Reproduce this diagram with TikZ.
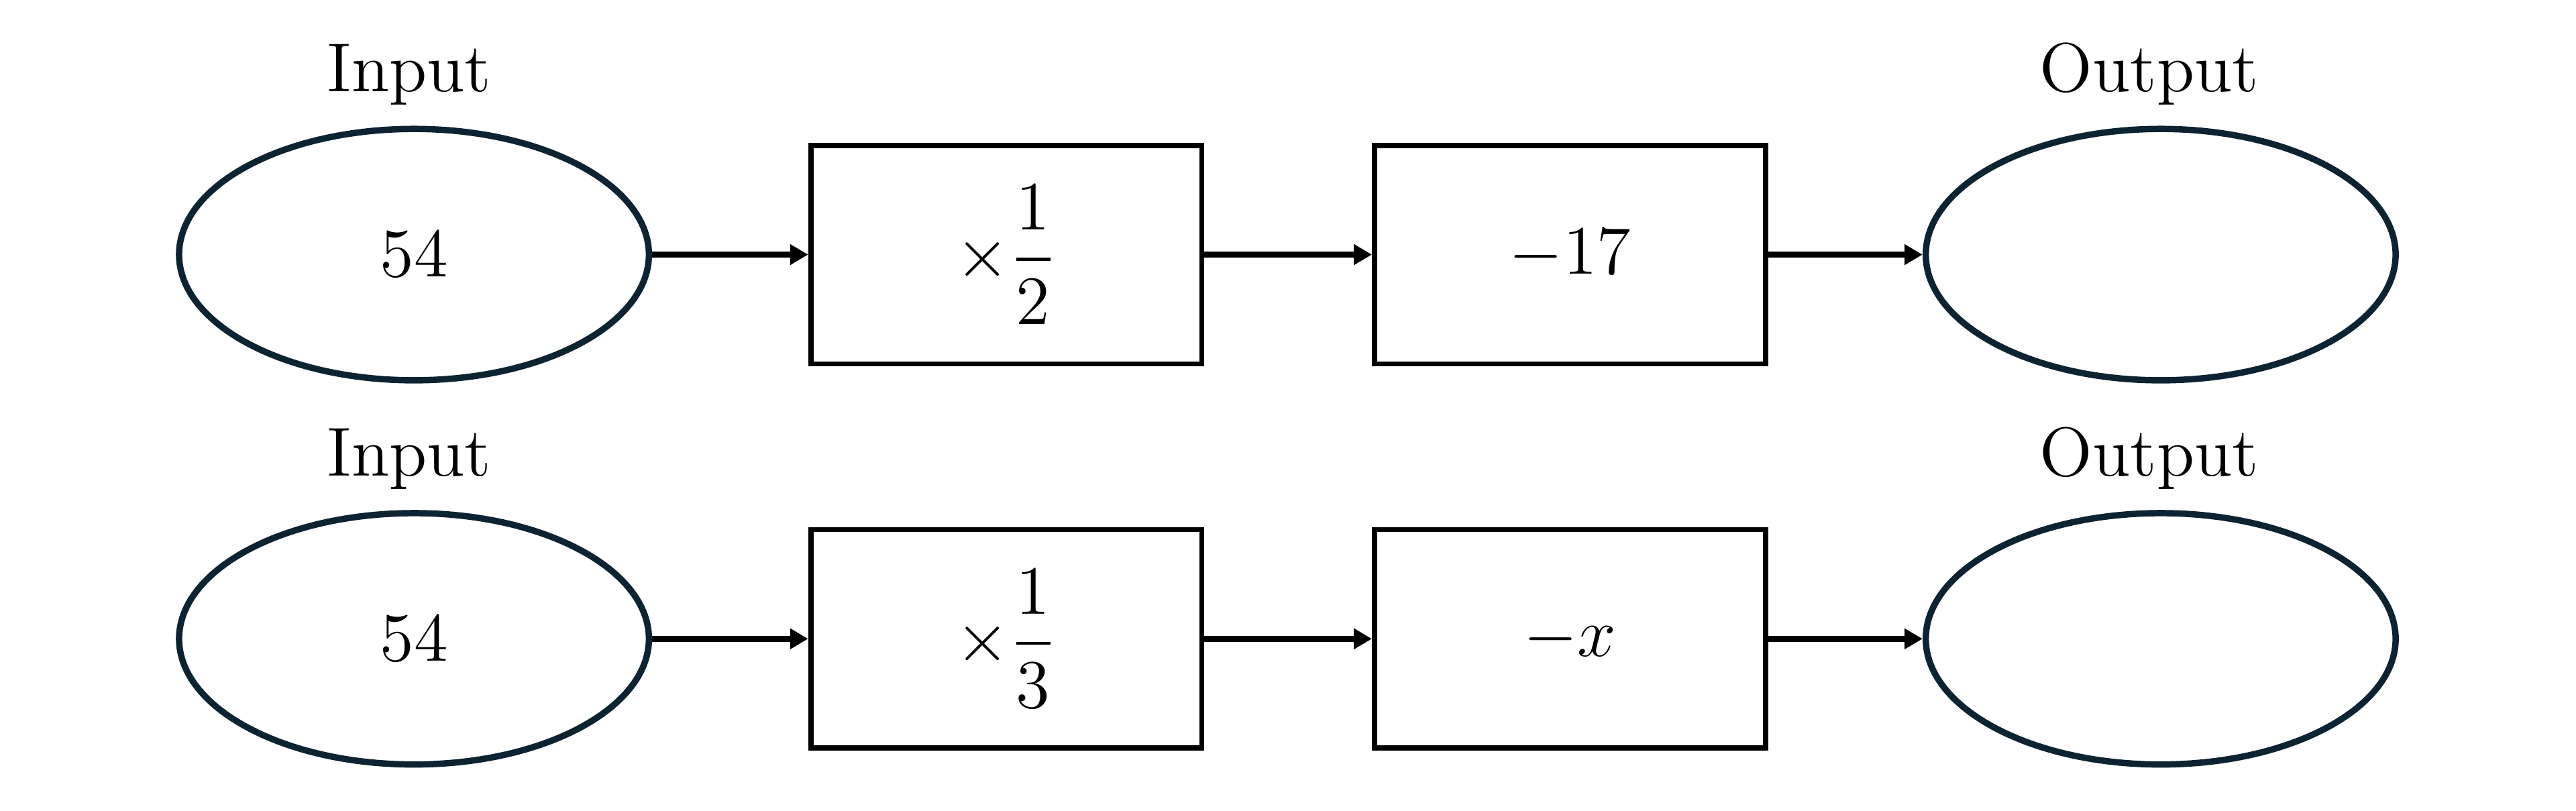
\documentclass[tikz,border=0pt]{standalone}
\usepackage{amsmath}
\usetikzlibrary{shapes.geometric,positioning,arrows.meta}
\definecolor{ovalnavy}{RGB}{12,35,50}

\begin{document}
\begin{tikzpicture}[
    font=\fontsize{12}{14.4}\selectfont,
    oval/.style={ellipse, draw=ovalnavy, line width=1.1pt,
      minimum width=2.86cm, minimum height=1.53cm, inner sep=0pt},
    opbox/.style={rectangle, draw, line width=0.9pt,
      minimum width=2.38cm, minimum height=1.33cm, inner sep=0pt},
    flow/.style={-{Triangle[length=1.1mm,width=1.2mm]}, line width=1pt},
    tag/.style={anchor=base, inner sep=0pt}
  ]
  \useasboundingbox (0,0) rectangle (15.68,4.933);
  % first machine
  \node[oval] (in1) at (2.52,3.383) {$54$};
  \node[opbox, right=0.95cm of in1] (half) {$\times\dfrac{1}{2}$};
  \node[opbox, right=1.02cm of half] (minus17) {$-17$};
  \node[oval, right=0.94cm of minus17] (out1) {};
  \node[tag, above=0.12cm of in1.north, xshift=-0.03cm] (inlbl1) {Input};
  \node[tag, above=0.12cm of out1.north, xshift=-0.07cm] (outlbl1) {Output};
  \draw[flow] (in1) -- (half);
  \draw[flow] (half) -- (minus17);
  \draw[flow] (minus17) -- (out1);
  % second machine
  \node[oval, below=0.77cm of in1] (in2) {$54$};
  \node[opbox, right=0.95cm of in2] (third) {$\times\dfrac{1}{3}$};
  \node[opbox, right=1.02cm of third] (minusx) {$-x$};
  \node[oval, right=0.94cm of minusx] (out2) {};
  \node[tag, above=0.12cm of in2.north, xshift=-0.03cm] (inlbl2) {Input};
  \node[tag, above=0.12cm of out2.north, xshift=-0.07cm] (outlbl2) {Output};
  \draw[flow] (in2) -- (third);
  \draw[flow] (third) -- (minusx);
  \draw[flow] (minusx) -- (out2);
\end{tikzpicture}
\end{document}
